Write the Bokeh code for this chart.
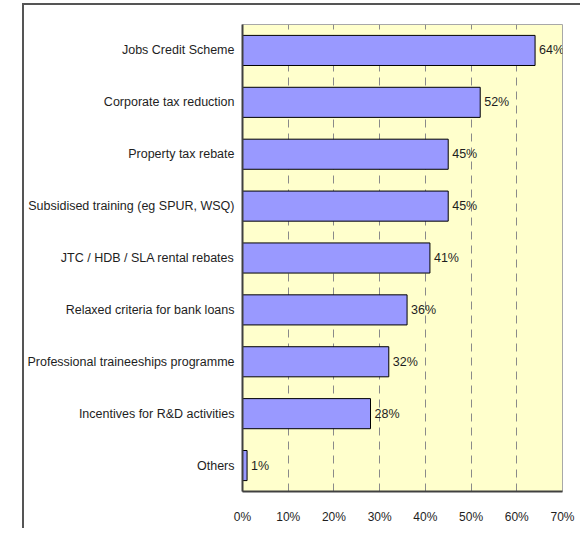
from bokeh.plotting import figure
from bokeh.models import FactorRange, ColumnDataSource, PrintfTickFormatter, FixedTicker
from bokeh.core.properties import value
from bokeh.embed import file_html
from bokeh.resources import INLINE

categories = [
    "Jobs Credit Scheme",
    "Corporate tax reduction",
    "Property tax rebate",
    "Subsidised training (eg SPUR, WSQ)",
    "JTC / HDB / SLA rental rebates",
    "Relaxed criteria for bank loans",
    "Professional traineeships programme",
    "Incentives for R&D activities",
    "Others",
]
values = [64, 52, 45, 45, 41, 36, 32, 28, 1]
value_labels = ["64%", "52%", "45%", "45%", "41%", "36%", "32%", "28%", "1%"]
x_ticks = [0, 10, 20, 30, 40, 50, 60, 70]

FONT = "Liberation Sans"
TXT = "#1e1e1e"

src = ColumnDataSource(dict(cat=categories, val=values, lab=value_labels))

p = figure(
    title=None,
    y_range=FactorRange(factors=list(reversed(categories))),
    x_range=(0, 70),
    width=558, height=525,
    output_backend="svg", toolbar_location=None,
    min_border_left=216, min_border_right=20, min_border_top=19, min_border_bottom=39,
    background_fill_color="#FFFFCC", border_fill_color="white",
)
# outer frame of the original slide (left and top edges visible)
p.styles = {"margin-left": "22px", "margin-top": "3px",
            "border-left": "2px solid #555555", "border-top": "2px solid #555555"}

p.hbar(y="cat", right="val", left=0, height=0.58, source=src,
       fill_color="#9999FF", line_color="black", line_width=1)
p.text(x="val", y="cat", text="lab", source=src, x_offset=4,
       text_baseline="middle", text_align="left", text_font_size="12.5px",
       text_font=value(FONT), text_color=TXT)

p.outline_line_color = "#A8A8A8"
p.outline_line_width = 1

p.xaxis.ticker = FixedTicker(ticks=x_ticks)
p.xaxis.formatter = PrintfTickFormatter(format="%d%%")
p.xaxis.major_label_text_font = FONT
p.xaxis.major_label_text_font_size = "12px"
p.xaxis.major_label_text_color = TXT
p.xaxis.major_label_standoff = 18
p.xaxis.major_tick_line_color = None
p.xaxis.major_tick_out = 0
p.xaxis.major_tick_in = 0
p.xaxis.minor_tick_line_color = None
p.xaxis.minor_tick_out = 0
p.xaxis.axis_line_color = "#404040"
p.xaxis.axis_line_width = 2

p.yaxis.major_label_text_font = FONT
p.yaxis.major_label_text_font_size = "12.5px"
p.yaxis.major_label_text_color = TXT
p.yaxis.major_label_standoff = 8
p.yaxis.major_tick_line_color = None
p.yaxis.major_tick_out = 0
p.yaxis.major_tick_in = 0
p.yaxis.axis_line_color = "#404040"
p.yaxis.axis_line_width = 2

p.xgrid.grid_line_color = "#8A8A8A"
p.xgrid.grid_line_dash = "8 6"
p.xgrid.grid_line_width = 1
p.ygrid.grid_line_color = None

open("out.html", "w").write(file_html(p, INLINE))
